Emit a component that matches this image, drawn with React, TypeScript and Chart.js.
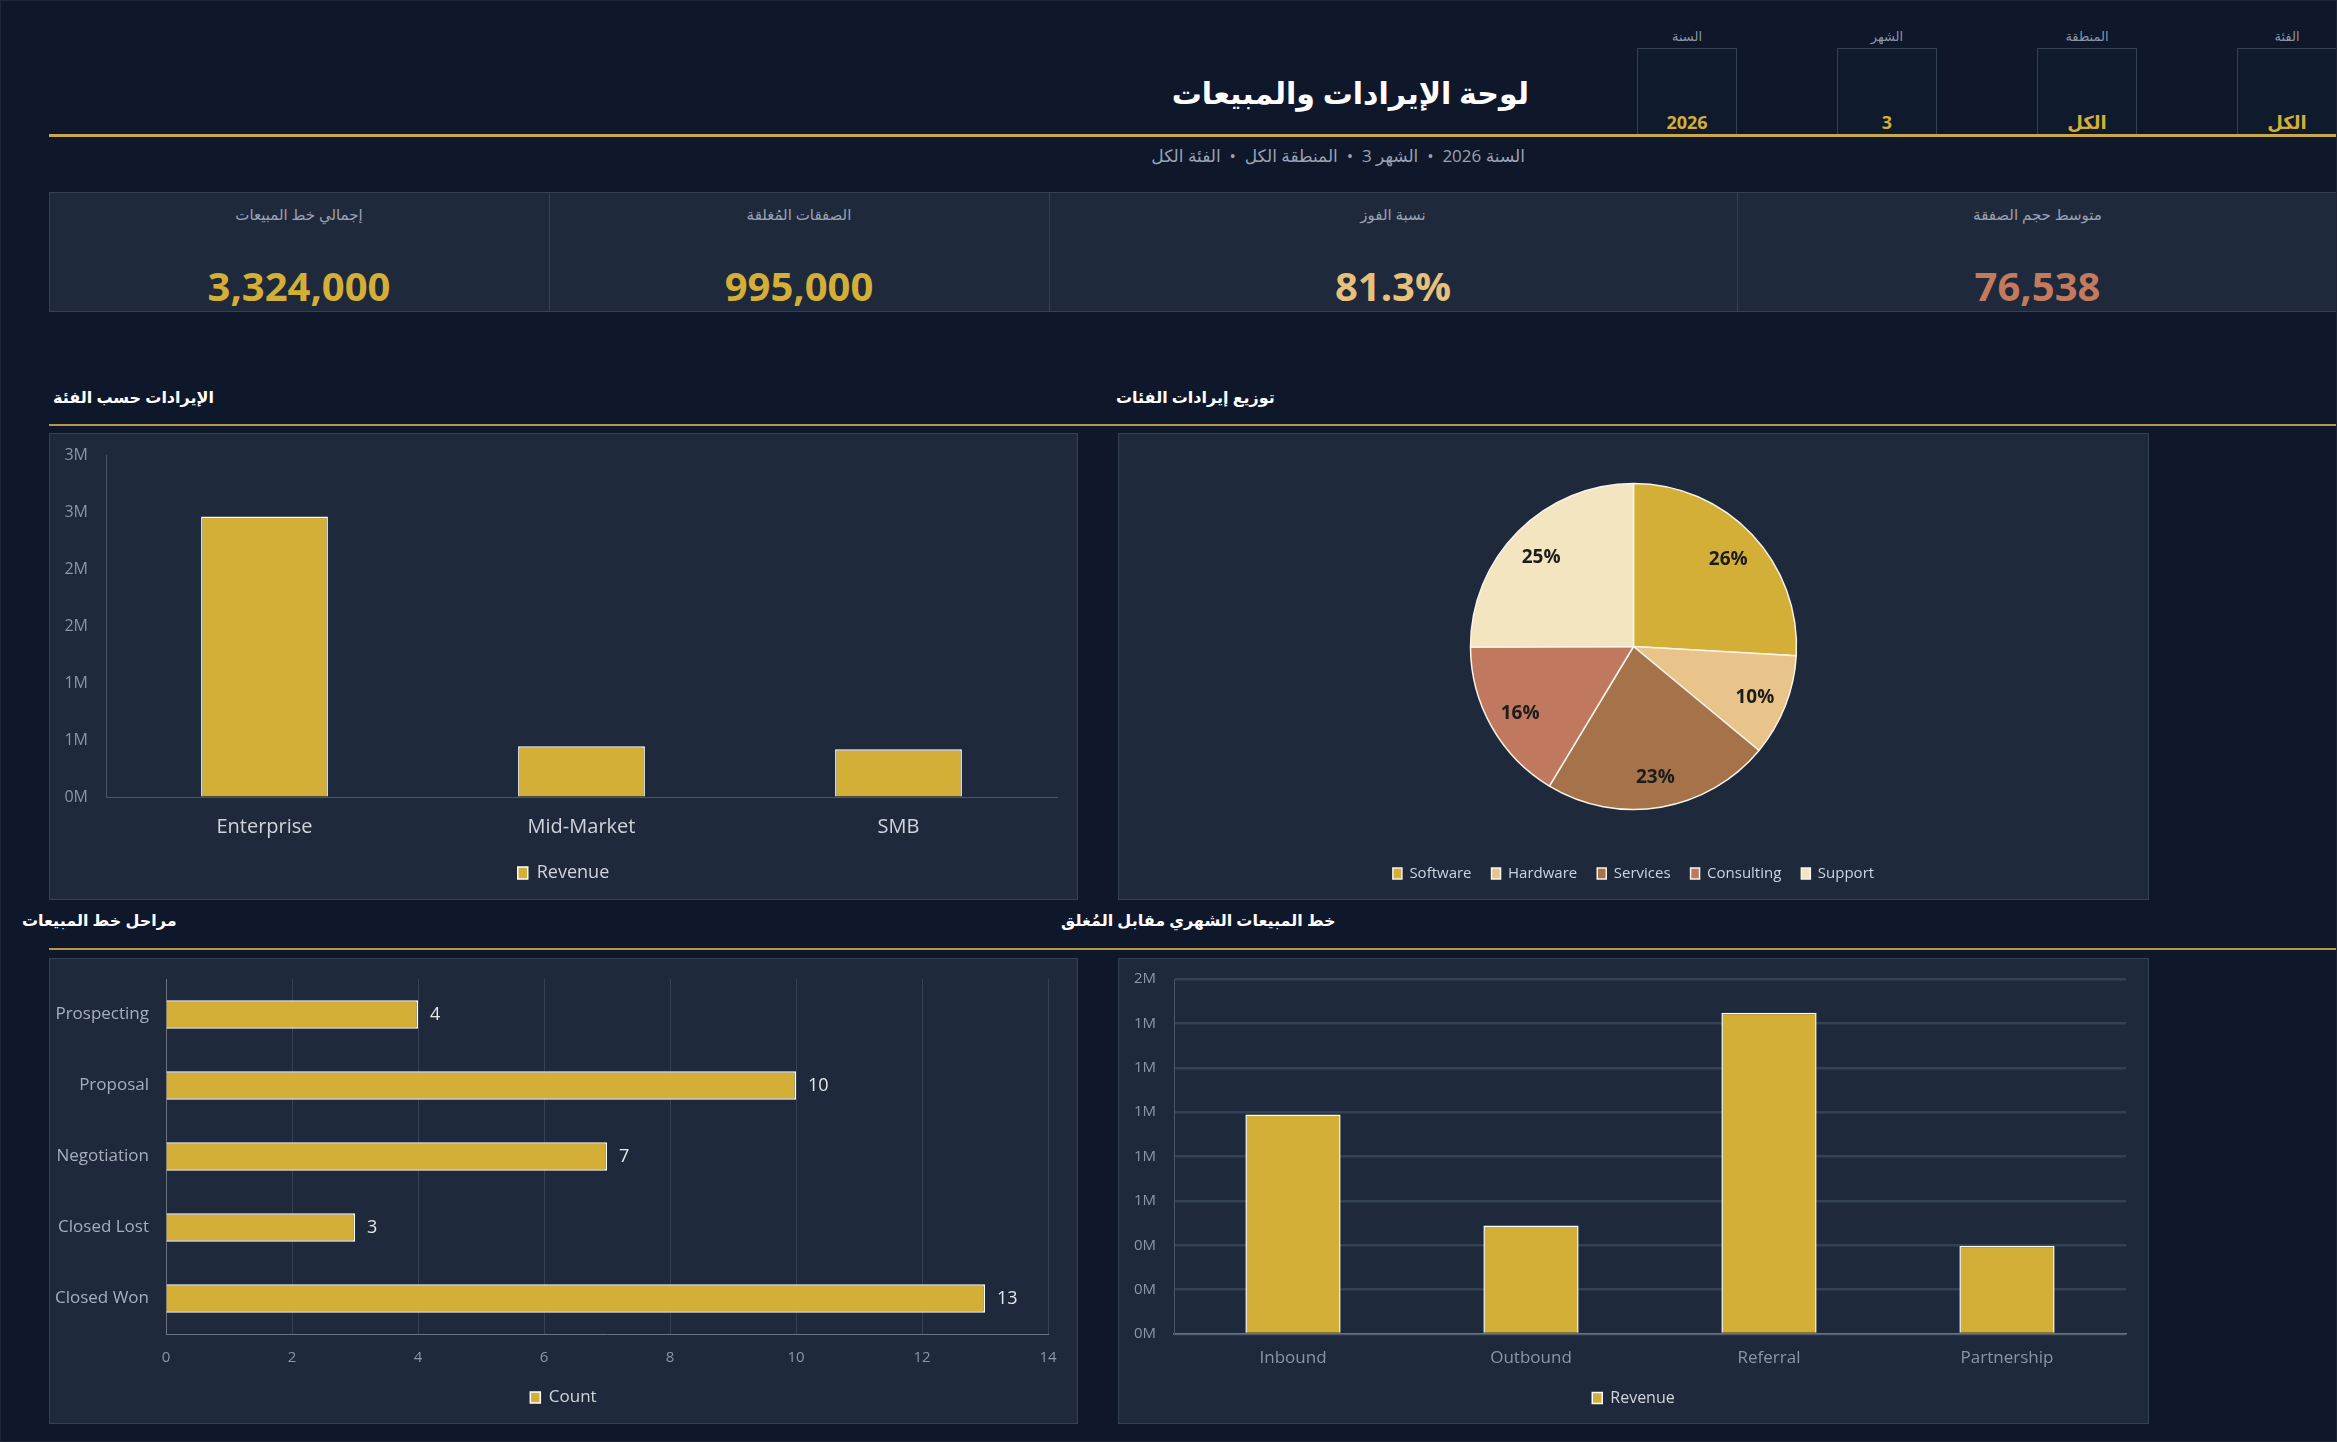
import React, { useEffect, useRef } from "react";
import { Chart, registerables } from "chart.js";

Chart.register(...registerables);

// ---------- DATA ----------
const segmentLabels = ["Enterprise", "Mid-Market", "SMB"];
const segmentRevenue = [2460000, 446000, 418000];

const productLabels = ["Software", "Hardware", "Services", "Consulting", "Support"];
const productRevenue = [861000, 336000, 752000, 542000, 833000];

const stageLabels = ["Prospecting", "Proposal", "Negotiation", "Closed Lost", "Closed Won"];
const stageCounts = [4, 10, 7, 3, 13];

const sourceLabels = ["Inbound", "Outbound", "Referral", "Partnership"];
const sourceRevenue = [989000, 489000, 1448000, 398000];

const kpiLabels = ["إجمالي خط المبيعات", "الصفقات المُغلقة", "نسبة الفوز", "متوسط حجم الصفقة"];
const kpiValues = ["3,324,000", "995,000", "81.3%", "76,538"];

const filterLabels = ["السنة", "الشهر", "المنطقة", "الفئة"];
const filterValues = ["2026", "3", "الكل", "الكل"];

const titleText = "لوحة الإيرادات والمبيعات";
const subtitleParts = ["السنة 2026", "الشهر 3", "المنطقة الكل", "الفئة الكل"];
const sectionTitles = ["الإيرادات حسب الفئة", "توزيع إيرادات الفئات", "مراحل خط المبيعات", "خط المبيعات الشهري مقابل المُغلق"];

// ---------- STYLE ----------
const GOLD = "#D4AF37";
const PRODUCT_COLORS = ["#D4AF37", "#E8C48A", "#A5724A", "#C0785E", "#F3E5C0"];
const KPI_COLORS = ["#D4AF37", "#D4AF37", "#E8C07D", "#C47A5E"];
const PAGE_BG = "#0f172a";
const PANEL_BG = "#1e293b";
const PANEL_BORDER = "#334155";
const FONT = "'Open Sans', 'DejaVu Sans', sans-serif";

Chart.defaults.font.family = FONT;

const mFormat = (v: any) => (Number(v) / 1e6).toFixed(0) + "M";

// invisible right-hand axis that only reserves space, so the legend stays centred on the panel
const spacerAxis = (w: number) => ({
  type: "linear",
  position: "right",
  display: true,
  grid: { display: false, drawTicks: false },
  border: { display: false },
  ticks: { display: false },
  afterFit: (s: any) => { s.width = w; },
});

const pieLabelPlugin = {
  id: "pieLabels",
  afterDatasetsDraw(chart: any) {
    const { ctx } = chart;
    const meta = chart.getDatasetMeta(0);
    const data = chart.data.datasets[0].data as number[];
    const total = data.reduce((a, b) => a + b, 0);
    ctx.save();
    ctx.font = "bold 19px " + FONT;
    ctx.fillStyle = "#1c1c1c";
    ctx.textAlign = "center";
    ctx.textBaseline = "middle";
    meta.data.forEach((arc: any, i: number) => {
      const p = arc.getProps(["x", "y", "startAngle", "endAngle", "outerRadius"], true);
      const mid = (p.startAngle + p.endAngle) / 2;
      const r = p.outerRadius * 0.8;
      ctx.fillText(Math.round((data[i] / total) * 100) + "%", p.x + Math.cos(mid) * r, p.y + Math.sin(mid) * r + 3);
    });
    ctx.restore();
  },
};

const barValuePlugin = {
  id: "barValues",
  afterDatasetsDraw(chart: any) {
    const { ctx } = chart;
    const meta = chart.getDatasetMeta(0);
    const data = chart.data.datasets[0].data as number[];
    ctx.save();
    ctx.font = "18px " + FONT;
    ctx.fillStyle = "#e5e7eb";
    ctx.textAlign = "left";
    ctx.textBaseline = "middle";
    meta.data.forEach((bar: any, i: number) => {
      ctx.fillText(String(data[i]), bar.x + 12, bar.y);
    });
    ctx.restore();
  },
};

function ChartBox(props: { left: number; top: number; width: number; height: number; make: () => any }) {
  const ref = useRef<HTMLCanvasElement>(null);
  useEffect(() => {
    const chart = new Chart(ref.current as HTMLCanvasElement, props.make());
    return () => chart.destroy();
  }, []);
  return (
    <canvas
      ref={ref}
      width={props.width}
      height={props.height}
      style={{ position: "absolute", left: props.left, top: props.top, width: props.width, height: props.height, display: "block" }}
    />
  );
}

const segmentConfig = () => ({
  type: "bar",
  data: {
    labels: segmentLabels,
    datasets: [
      { label: "Revenue", data: segmentRevenue, backgroundColor: GOLD, borderColor: "#ffffff", borderWidth: 1.5, barPercentage: 0.4, categoryPercentage: 1 },
    ],
  },
  options: {
    animation: false,
    responsive: false,
    layout: { padding: { top: 22, right: 0, bottom: 8, left: 0 } },
    plugins: {
      legend: { position: "bottom", labels: { color: "#d1d5db", font: { size: 18 }, boxWidth: 10, boxHeight: 12, padding: 13 } },
      tooltip: { enabled: false },
    },
    scales: {
      x: {
        grid: { display: false, drawTicks: false },
        border: { display: true, color: "#4b5563" },
        ticks: { color: "#d1d5db", font: { size: 20 }, padding: 18 },
        afterFit: (s: any) => { s.height = 54; },
      },
      y: {
        min: 0,
        max: 3000000,
        ticks: { stepSize: 500000, color: "#8b95a7", font: { size: 16 }, padding: 0, callback: mFormat },
        grid: { display: true, color: "rgba(0,0,0,0)", drawOnChartArea: false, drawTicks: true, tickLength: 18, tickColor: "rgba(0,0,0,0)" },
        border: { display: true, color: "#4b5563" },
        afterFit: (s: any) => { s.width = 57; },
      },
      yR: spacerAxis(21),
    },
  },
});

const productConfig = () => ({
  type: "pie",
  data: {
    labels: productLabels,
    datasets: [{ data: productRevenue, backgroundColor: PRODUCT_COLORS, borderColor: "#f8f4e8", borderWidth: 1.5, radius: 163 }],
  },
  options: {
    animation: false,
    responsive: false,
    layout: { padding: { top: 14, bottom: 9 } },
    plugins: {
      legend: { position: "bottom", labels: { color: "#cbd5e1", font: { size: 15 }, boxWidth: 9, boxHeight: 11, padding: 20 } },
      tooltip: { enabled: false },
    },
  },
  plugins: [pieLabelPlugin],
});

const stageConfig = () => ({
  type: "bar",
  data: {
    labels: stageLabels,
    datasets: [
      { label: "Count", data: stageCounts, backgroundColor: GOLD, borderColor: "#ffffff", borderWidth: 1.5, barPercentage: 0.4, categoryPercentage: 1 },
    ],
  },
  options: {
    indexAxis: "y",
    animation: false,
    responsive: false,
    layout: { padding: { top: 21, right: 0, bottom: 8, left: 0 } },
    plugins: {
      legend: { position: "bottom", labels: { color: "#d1d5db", font: { size: 17 }, boxWidth: 10, boxHeight: 11, padding: 15 } },
      tooltip: { enabled: false },
    },
    scales: {
      x: {
        min: 0,
        max: 14,
        ticks: { stepSize: 2, color: "#8b95a7", font: { size: 15 }, padding: 15 },
        grid: { color: "#364154", lineWidth: 1, drawTicks: false },
        border: { display: true, color: "#6b7280" },
        afterFit: (s: any) => { s.height = 40; },
      },
      y: {
        grid: { display: true, color: "rgba(0,0,0,0)", drawOnChartArea: false, drawTicks: true, tickLength: 17, tickColor: "rgba(0,0,0,0)" },
        border: { display: true, color: "#6b7280" },
        ticks: { color: "#a7afbd", font: { size: 17 }, padding: 0 },
        afterFit: (s: any) => { s.width = 117; },
      },
      y2: spacerAxis(30),
    },
  },
  plugins: [barValuePlugin],
});

const sourceConfig = () => ({
  type: "bar",
  data: {
    labels: sourceLabels,
    datasets: [
      { label: "Revenue", data: sourceRevenue, backgroundColor: GOLD, borderColor: "#ffffff", borderWidth: 1.5, barPercentage: 0.4, categoryPercentage: 1 },
    ],
  },
  options: {
    animation: false,
    responsive: false,
    layout: { padding: { top: 21, right: 0, bottom: 8, left: 0 } },
    plugins: {
      legend: { position: "bottom", labels: { color: "#d1d5db", font: { size: 16 }, boxWidth: 10, boxHeight: 11, padding: 16 } },
      tooltip: { enabled: false },
    },
    scales: {
      x: {
        grid: { display: false, drawTicks: false },
        border: { display: true, color: "#6b7280", width: 1.5 },
        ticks: { color: "#8b95a7", font: { size: 17 }, padding: 14 },
        afterFit: (s: any) => { s.height = 40; },
      },
      y: {
        min: 0,
        max: 1600000,
        ticks: { stepSize: 200000, color: "#8b95a7", font: { size: 15 }, padding: 0, callback: mFormat },
        grid: { color: "#334155", lineWidth: 2.5, drawTicks: true, tickLength: 18, tickColor: "rgba(0,0,0,0)" },
        border: { display: true, color: "#4b5563" },
        afterFit: (s: any) => { s.width = 56; },
      },
      yR: spacerAxis(23),
    },
  },
});

const abs = (l: number, t: number, w: number, h: number, extra: any = {}) => ({
  position: "absolute" as const, left: l, top: t, width: w, height: h, boxSizing: "border-box" as const, ...extra,
});

function Panel(props: { l: number; t: number; w: number; h: number }) {
  return <div style={abs(props.l, props.t, props.w, props.h, { background: PANEL_BG, border: "1px solid " + PANEL_BORDER })} />;
}

function SectionTitle(props: { text: string; left: number; cy: number }) {
  return (
    <div style={{ position: "absolute", left: props.left, top: props.cy - 13, height: 26, lineHeight: "26px", fontSize: 16, fontWeight: 700, color: "#ffffff", direction: "rtl", whiteSpace: "nowrap" }}>
      {props.text}
    </div>
  );
}

export default function App() {
  const filterLefts = [1636, 1836, 2036, 2236];
  const kpiCells = [[48, 548], [548, 1048], [1048, 1736], [1736, 2337]];
  const sep = "\u00A0\u00A0•\u00A0\u00A0";
  return (
    <div style={{ position: "fixed", left: 0, top: 0, width: 2337, height: 1442, background: PAGE_BG, fontFamily: FONT, overflow: "hidden", boxSizing: "border-box", border: "1px solid #1f2737" }}>
      {/* Title */}
      <div style={{ position: "absolute", right: 807, top: 70, lineHeight: "44px", fontSize: 30, fontWeight: 700, color: "#ffffff", direction: "rtl", whiteSpace: "nowrap" }}>
        {titleText}
      </div>
      {/* Filters */}
      {filterLefts.map((l, i) => (
        <React.Fragment key={i}>
          <div style={abs(l, 25, 100, 20, { textAlign: "center", fontSize: 13, lineHeight: "20px", color: "#8b95a7", direction: "rtl" })}>{filterLabels[i]}</div>
          <div style={abs(l, 47, 100, 88, { border: "1px solid " + PANEL_BORDER, borderBottom: "none", background: "#0f1a2d" })} />
          <div style={abs(l, 109, 100, 24, { textAlign: "center", fontSize: 18, fontWeight: 700, lineHeight: "24px", color: GOLD, direction: "rtl" })}>{filterValues[i]}</div>
        </React.Fragment>
      ))}
      {/* Header gold rule */}
      <div style={abs(48, 133, 2289, 2.5, { background: "#C9A84C" })} />
      {/* Subtitle */}
      <div style={{ position: "absolute", right: 811, top: 143, lineHeight: "24px", fontSize: 17, color: "#9aa3b5", direction: "rtl", whiteSpace: "nowrap" }}>
        {subtitleParts.join(sep)}
      </div>
      {/* KPI strip */}
      {kpiCells.map(([a, b], i) => (
        <React.Fragment key={i}>
          <div style={abs(a, 191, b - a + (i < 3 ? 1 : 0), 120, { background: PANEL_BG, border: "1px solid " + PANEL_BORDER })} />
          <div style={abs(a, 202, b - a, 22, { textAlign: "center", fontSize: 15, lineHeight: "22px", color: "#9aa3b5", direction: "rtl" })}>{kpiLabels[i]}</div>
          <div style={abs(a, 259, b - a, 52, { textAlign: "center", fontSize: 40, fontWeight: 700, lineHeight: "52px", color: KPI_COLORS[i] })}>{kpiValues[i]}</div>
        </React.Fragment>
      ))}
      {/* Section titles + rules */}
      <SectionTitle text={sectionTitles[0]} left={52} cy={396} />
      <SectionTitle text={sectionTitles[1]} left={1115} cy={396} />
      <div style={abs(48, 423, 2289, 1.5, { background: "#B8954A" })} />
      <SectionTitle text={sectionTitles[2]} left={21} cy={919} />
      <SectionTitle text={sectionTitles[3]} left={1060} cy={919} />
      <div style={abs(48, 947, 2289, 1.5, { background: "#B8954A" })} />
      {/* Panels */}
      <Panel l={48} t={432} w={1029} h={467} />
      <Panel l={1117} t={432} w={1031} h={467} />
      <Panel l={48} t={957} w={1029} h={466} />
      <Panel l={1117} t={957} w={1031} h={466} />
      {/* Charts */}
      <ChartBox left={48} top={432} width={1029} height={467} make={segmentConfig} />
      <ChartBox left={1117} top={432} width={1031} height={467} make={productConfig} />
      <ChartBox left={48} top={957} width={1029} height={466} make={stageConfig} />
      <ChartBox left={1117} top={957} width={1031} height={466} make={sourceConfig} />
    </div>
  );
}
